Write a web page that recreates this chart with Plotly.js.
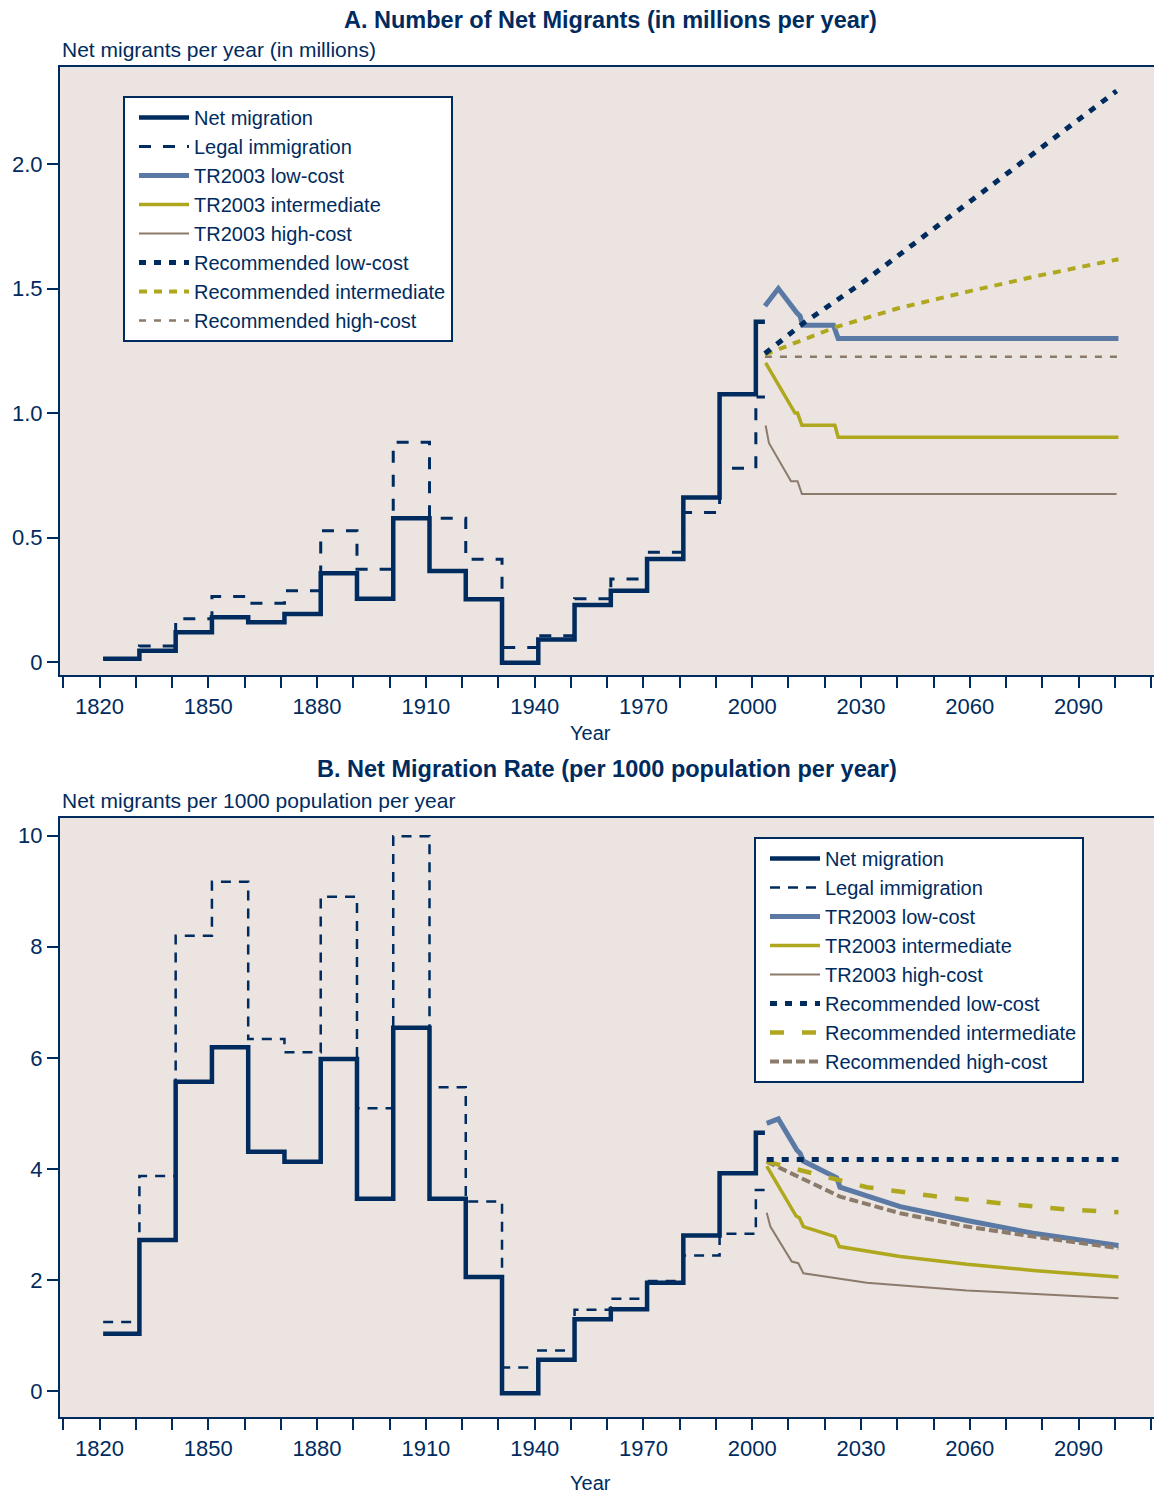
<!DOCTYPE html>
<html>
<head>
<meta charset="utf-8">
<script src="https://cdn.plot.ly/plotly-3.0.1.min.js"></script>
<style>
html,body{margin:0;padding:0;background:#fff;overflow:hidden;}
#chart{width:1154px;height:1493px;}
</style>
</head>
<body>
<div id="chart"></div>
<script>
// ---------- Historical data (decades), step starts ----------
const decadeStart = [1821,1831,1841,1851,1861,1871,1881,1891,1901,1911,1921,1931,1941,1951,1961,1971,1981,1991,2001];
const histEnd = 2003.5;

// Panel A: millions per year
const netMillions   = [0.013,0.045,0.120,0.180,0.160,0.193,0.357,0.254,0.578,0.366,0.252,-0.003,0.091,0.229,0.286,0.414,0.661,1.076,1.367];
const legalMillions = [0.014,0.064,0.174,0.263,0.236,0.286,0.527,0.373,0.883,0.578,0.413,0.058,0.106,0.254,0.334,0.441,0.601,0.778,1.065];

// Panel B: per 1000 population per year
const netRate   = [1.03,2.72,5.57,6.19,4.31,4.13,5.98,3.46,6.54,3.46,2.05,-0.04,0.56,1.29,1.47,1.95,2.80,3.92,4.65];
const legalRate = [1.24,3.87,8.20,9.17,6.34,6.10,8.90,5.09,9.99,5.47,3.41,0.42,0.73,1.46,1.66,1.98,2.44,2.83,3.62];

// ---------- Projections, panel A ----------
const tr03LowYearsA  = [2003.5,2007.2,2012.3,2013.2,2013.9,2022.4,2023.7,2101];
const tr03LowA       = [1.43,1.50,1.403,1.39,1.353,1.353,1.30,1.30];
const tr03IntYearsA  = [2003.7,2011.8,2012.5,2013.7,2022.8,2023.7,2101];
const tr03IntA       = [1.202,1.00,1.00,0.951,0.951,0.903,0.903];
const tr03HighYearsA = [2003.7,2004.6,2010.7,2012.5,2013.7,2100.5];
const tr03HighA      = [0.95,0.88,0.726,0.726,0.675,0.675];
const recLowYearsA   = [2003.5,2014,2030,2060,2100.5];
const recLowA        = [1.239,1.36,1.52,1.85,2.294];
const recIntYearsA   = [2003.5,2013,2023,2040,2060,2080,2101];
const recIntA        = [1.235,1.29,1.345,1.42,1.49,1.555,1.618];
const recHighYearsA  = [2003.5,2101];
const recHighA       = [1.226,1.226];

// ---------- Projections, panel B ----------
const tr03LowYearsB  = [2004,2007.2,2012.3,2013.2,2014.1,2023.3,2024.2,2040.8,2059.2,2077.5,2101];
const tr03LowB       = [4.82,4.90,4.34,4.28,4.14,3.84,3.67,3.32,3.07,2.84,2.62];
const tr03IntYearsB  = [2004,2012.1,2013,2014.1,2022.8,2024,2040.8,2059.2,2077.5,2101];
const tr03IntB       = [4.05,3.15,3.12,2.96,2.78,2.60,2.42,2.28,2.17,2.05];
const tr03HighYearsB = [2004,2005,2010.9,2012.7,2014.1,2031.6,2059.2,2101];
const tr03HighB      = [3.21,2.96,2.33,2.30,2.12,1.95,1.81,1.67];
const recLowYearsB   = [2004,2101];
const recLowB        = [4.17,4.17];
const recIntYearsB   = [2004,2013.2,2022.4,2031.6,2050,2068.3,2086.7,2101];
const recIntB        = [4.13,3.98,3.81,3.67,3.51,3.38,3.27,3.22];
const recHighYearsB  = [2004,2013.2,2024.2,2040.8,2059.2,2077.5,2101];
const recHighB       = [4.13,3.85,3.50,3.20,2.96,2.78,2.57];

// ---------- Labels ----------
const seriesNames = ["Net migration","Legal immigration","TR2003 low-cost","TR2003 intermediate","TR2003 high-cost","Recommended low-cost","Recommended intermediate","Recommended high-cost"];
const yTicksA = [0,0.5,1.0,1.5,2.0];
const yTickTextA = ["0","0.5","1.0","1.5","2.0"];
const yTicksB = [0,2,4,6,8,10];
const yTickTextB = ["0","2","4","6","8","10"];

// ---------- Styling ----------
const NAVY = "#002B5E", STEEL = "#5A79A5", OLIVE = "#AFA81F", TAUPE = "#8C7A6B", BG = "#EBE4E1";
const FONT = "Liberation Sans, Arial, sans-serif";

function stepX(starts){ return starts.concat([histEnd]); }
function stepY(v){ return v.concat([v[v.length-1]]); }

function panelTraces(xa, ya, leg, hist, proj, st){
  const t = [];
  t.push({x: stepX(decadeStart), y: stepY(hist.legal), xaxis:xa, yaxis:ya, legend:leg, name:seriesNames[1], legendrank:2,
          mode:"lines", line:{shape:"hv", color:NAVY, width:st.legalW, dash:st.legalDash}});
  t.push({x: stepX(decadeStart), y: stepY(hist.net), xaxis:xa, yaxis:ya, legend:leg, name:seriesNames[0], legendrank:1,
          mode:"lines", line:{shape:"hv", color:NAVY, width:4.5}});
  t.push({x: proj.hiX, y: proj.hi, xaxis:xa, yaxis:ya, legend:leg, name:seriesNames[4], legendrank:5,
          mode:"lines", line:{color:TAUPE, width:2}});
  t.push({x: proj.inX, y: proj.in, xaxis:xa, yaxis:ya, legend:leg, name:seriesNames[3], legendrank:4,
          mode:"lines", line:{color:OLIVE, width:3.5}});
  t.push({x: proj.loX, y: proj.lo, xaxis:xa, yaxis:ya, legend:leg, name:seriesNames[2], legendrank:3,
          mode:"lines", line:{color:STEEL, width:5}});
  t.push({x: proj.rhX, y: proj.rh, xaxis:xa, yaxis:ya, legend:leg, name:seriesNames[7], legendrank:8,
          mode:"lines", line:{color:TAUPE, width:st.rhW, dash:st.rhDash}});
  t.push({x: proj.riX, y: proj.ri, xaxis:xa, yaxis:ya, legend:leg, name:seriesNames[6], legendrank:7,
          mode:"lines", line:{color:OLIVE, width:st.riW, dash:st.riDash}});
  t.push({x: proj.rlX, y: proj.rl, xaxis:xa, yaxis:ya, legend:leg, name:seriesNames[5], legendrank:6,
          mode:"lines", line:{color:NAVY, width:5, dash:"7px,8px"}});
  return t;
}

const tracesA = panelTraces("x","y","legend",
  {net:netMillions, legal:legalMillions},
  {loX:tr03LowYearsA, lo:tr03LowA, inX:tr03IntYearsA, in:tr03IntA, hiX:tr03HighYearsA, hi:tr03HighA,
   rlX:recLowYearsA, rl:recLowA, riX:recIntYearsA, ri:recIntA, rhX:recHighYearsA, rh:recHighA},
  {legalW:3, legalDash:"12px,12px", rhW:2.5, rhDash:"7px,8px", riW:4, riDash:"8px,7px"});

const tracesB = panelTraces("x2","y2","legend2",
  {net:netRate, legal:legalRate},
  {loX:tr03LowYearsB, lo:tr03LowB, inX:tr03IntYearsB, in:tr03IntB, hiX:tr03HighYearsB, hi:tr03HighB,
   rlX:recLowYearsB, rl:recLowB, riX:recIntYearsB, ri:recIntB, rhX:recHighYearsB, rh:recHighB},
  {legalW:2.5, legalDash:"10px,8px", rhW:4, rhDash:"9px,4px", riW:4.5, riDash:"14px,18px"});

const H = 1493, L = 60, W = 1094;
const py = p => (H - p) / H;      // pixel y -> paper fraction
const px = p => (p - L) / W;      // pixel x -> paper fraction

function xAxis(domainAnchor){
  return {
    anchor: domainAnchor, range:[1809.1, 2110.8], tickmode:"linear", tick0:1820, dtick:30,
    ticks:"outside", ticklen:11, tickwidth:2, tickcolor:NAVY,
    minor:{tick0:1820, dtick:10, ticks:"outside", ticklen:11, tickwidth:2, tickcolor:NAVY},
    showline:true, linecolor:NAVY, linewidth:2, mirror:true,
    showgrid:false, zeroline:false, tickfont:{family:FONT, size:22, color:NAVY}
  };
}
function yAxis(domain, range, vals, text, anchor){
  return {
    domain: domain, anchor: anchor, range: range, tickmode:"array", tickvals: vals, ticktext: text,
    ticks:"outside", ticklen:11, tickwidth:2, tickcolor:NAVY,
    showline:true, linecolor:NAVY, linewidth:2, mirror:false,
    showgrid:false, zeroline:false, tickfont:{family:FONT, size:22, color:NAVY}
  };
}

const legendBase = {
  bgcolor:"#FFFFFF", bordercolor:NAVY, borderwidth:2,
  font:{family:FONT, size:20, color:NAVY}, xanchor:"left", yanchor:"top",
  tracegroupgap:0, itemwidth:50, indentation:9
};

function ann(text, x, y, size, xanchor){
  return {text:text, xref:"paper", yref:"paper", x:x, y:y, xanchor:xanchor||"center", yanchor:"middle",
          showarrow:false, font:{family:FONT, size:size, color:NAVY}};
}

const layout = {
  width:1154, height:1493,
  margin:{l:L, r:0, t:0, b:0},
  paper_bgcolor:"#FFFFFF", plot_bgcolor:BG,
  font:{family:FONT, color:NAVY},
  xaxis: Object.assign(xAxis("y"), {domain:[0,1]}),
  yaxis: yAxis([py(675), py(67)], [-0.052, 2.39], yTicksA, yTickTextA, "x"),
  xaxis2: Object.assign(xAxis("y2"), {domain:[0,1]}),
  yaxis2: yAxis([py(1417), py(818)], [-0.47, 10.32], yTicksB, yTickTextB, "x2"),
  legend: Object.assign({}, legendBase, {x:px(123), y:py(96)}),
  legend2: Object.assign({}, legendBase, {x:px(754), y:py(837)}),
  showlegend:true,
  annotations:[
    ann("<b>A. Number of Net Migrants (in millions per year)</b>", px(610), py(20), 23.5),
    ann("Net migrants per year (in millions)", 0, py(50), 21, "left"),
    ann("Year", px(590), py(733), 20),
    ann("<b>B. Net Migration Rate (per 1000 population per year)</b>", px(607), py(769), 23.5),
    ann("Net migrants per 1000 population per year", 0, py(801), 21, "left"),
    ann("Year", px(590), py(1483), 20)
  ]
};

Plotly.newPlot("chart", tracesA.concat(tracesB), layout, {displayModeBar:false, responsive:false});
</script>
</body>
</html>
